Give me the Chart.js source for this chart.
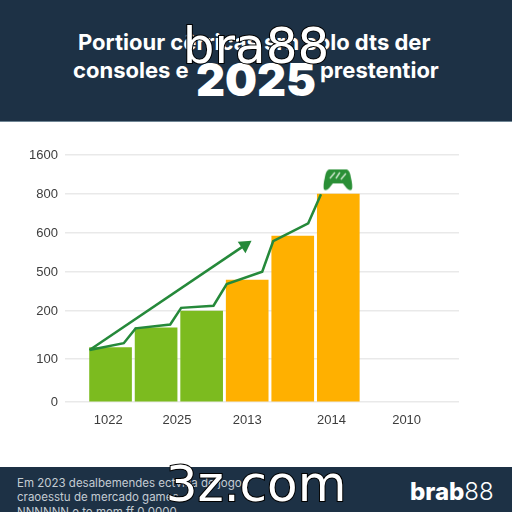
<!DOCTYPE html>
<html lang="pt">
<head>
<meta charset="utf-8">
<title>Consoles 2025</title>
<script src="https://cdn.jsdelivr.net/npm/chart.js@4/dist/chart.umd.js"></script>
<style>
  html, body { margin: 0; padding: 0; background: #fff; }
  #page { position: relative; width: 512px; height: 512px; overflow: hidden; font-family: Inter, "Open Sans", sans-serif; }
  #header { position: absolute; left: 0; top: 0; width: 512px; height: 122px; background: #1d3145; border-bottom: 1px solid #6f8594; box-sizing: border-box; }
  #footer { position: absolute; left: 0; top: 467px; width: 512px; height: 45px; background: #1d3145; overflow: hidden; }
  #chartWrap { position: absolute; left: 0; top: 123px; width: 512px; height: 344px; }
  .title { position: absolute; color: #fff; font-weight: 700; font-size: 22px; white-space: nowrap; line-height: 24px; }
  #year { position: absolute; left: 0; width: 512px; top: 55px; text-align: center; color: #fff; font-weight: 900; font-size: 45px; line-height: 50px; }
  .note { position: absolute; left: 17px; color: #c4ccd3; font-size: 11.5px; line-height: 14px; white-space: nowrap; }
  #brand { position: absolute; left: 410px; top: 10px; color: #fff; font-size: 24px; line-height: 30px; font-weight: 800; }
  #brand span { font-weight: 300; }
  .mark { position: absolute; left: 0; width: 512px; text-align: center; color: #fff; font-family: "DejaVu Sans", sans-serif; font-size: 50px; line-height: 60px; -webkit-text-stroke: 2px #000; paint-order: stroke fill; }
</style>
</head>
<body>
<div id="page">
  <div id="header">
    <div class="title" style="left:78px;top:30px">Portiour cêrricas srn solo dts der</div>
    <div class="title" style="left:73px;top:58px">consoles e</div>
    <div class="title" style="left:320px;top:58px">prestentior</div>
    <div id="year">2025</div>
  </div>
  <div id="chartWrap"><canvas id="chartConsoles" width="512" height="344"></canvas></div>
  <div id="footer">
    <div class="note" style="top:9px">Em 2023 desalbemendes ectvitia de jogos</div>
    <div class="note" style="top:23px">craoesstu de mercado games</div>
    <div class="note" style="top:38px">NNNNNN e to mem ff 0 0000</div>
    <div id="brand">brab<span>88</span></div>
  </div>
  <div class="mark" style="top:16px">bra88</div>
  <div class="mark" style="top:454px">3z.com</div>
</div>
<script>
// Data
const barX = [1, 2, 3, 4, 5, 6];
const barValues = [124, 165, 200, 438, 592, 800];
const barColors = ["#7cbb1f", "#7cbb1f", "#7cbb1f", "#ffb000", "#ffb000", "#ffb000"];

const trendX = [0.54, 1.29, 1.55, 2.31, 2.55, 3.26, 3.55, 4.33, 4.57, 5.34, 5.62];
const trendValues = [119, 133, 164, 172, 225, 241, 408, 501, 579, 650, 799];

const arrowX = [0.54, 3.95];
const arrowValues = [119, 569];

const iconX = [5.99];
const iconValues = [1090];

const yTicks = [0, 100, 200, 500, 600, 800, 1600];
const xTickLabels = ["1022", "2025", "2013", "2014", "2010"];
const xTickSpots = [0.95, 2.46, 4, 5.85, 7.5];

// The y axis of the picture is uneven, so each tick gets its own share of the height
const yStops = [0, 0.174, 0.368, 0.526, 0.684, 0.842, 1];

class StepScale extends Chart.LinearScale {
  getPixelForValue(value) {
    if (value === null || value === undefined) return NaN;
    let i = 0;
    while (i < yTicks.length - 2 && value > yTicks[i + 1]) i++;
    const t = (value - yTicks[i]) / (yTicks[i + 1] - yTicks[i]);
    return this.getPixelForDecimal(yStops[i] + t * (yStops[i + 1] - yStops[i]));
  }
}
StepScale.id = "stepScale";
StepScale.defaults = Chart.LinearScale.defaults;
Chart.register(StepScale);

// Small gamepad icon used as a point style
function makePad() {
  const c = document.createElement("canvas");
  c.width = 30;
  c.height = 23;
  const g = c.getContext("2d");
  g.fillStyle = "#2a8f36";
  g.beginPath();
  g.moveTo(6, 1);
  g.lineTo(24, 1);
  g.quadraticCurveTo(27, 2, 28, 9);
  g.quadraticCurveTo(30, 17, 29, 21);
  g.quadraticCurveTo(27, 23, 24, 20);
  g.lineTo(20, 15);
  g.lineTo(10, 15);
  g.lineTo(6, 20);
  g.quadraticCurveTo(3, 23, 1, 21);
  g.quadraticCurveTo(0, 17, 2, 9);
  g.quadraticCurveTo(3, 2, 6, 1);
  g.fill();
  g.strokeStyle = "#cfe8cf";
  g.lineWidth = 1.4;
  g.beginPath();
  g.moveTo(7, 10); g.lineTo(12, 4);
  g.moveTo(13, 10); g.lineTo(17, 4);
  g.moveTo(18, 11); g.lineTo(23, 5);
  g.stroke();
  return c;
}

const toPoints = (xs, ys) => xs.map((x, i) => ({ x, y: ys[i] }));

new Chart(document.getElementById("chartConsoles"), {
  type: "bar",
  data: {
    datasets: [
      {
        type: "line",
        data: toPoints(iconX, iconValues),
        showLine: false,
        pointStyle: makePad(),
        order: 0
      },
      {
        type: "line",
        data: toPoints(arrowX, arrowValues),
        borderColor: "#25893a",
        backgroundColor: "#25893a",
        borderWidth: 2.5,
        tension: 0,
        pointRadius: [0, 8],
        pointStyle: "triangle",
        pointRotation: 56,
        pointBackgroundColor: "#25893a",
        pointBorderWidth: 0,
        order: 1
      },
      {
        type: "line",
        data: toPoints(trendX, trendValues),
        borderColor: "#25893a",
        borderWidth: 2.5,
        tension: 0,
        pointRadius: 0,
        order: 2
      },
      {
        type: "bar",
        data: toPoints(barX, barValues),
        backgroundColor: barColors,
        barThickness: 42,
        order: 3
      }
    ]
  },
  options: {
    responsive: false,
    animation: false,
    layout: { padding: { left: 0, right: 53, top: 32, bottom: 0 } },
    plugins: { legend: { display: false }, tooltip: { enabled: false } },
    scales: {
      x: {
        type: "linear",
        offset: false,
        min: 0,
        max: 8.65,
        grid: { display: false, offset: false },
        border: { display: false },
        afterBuildTicks: axis => { axis.ticks = xTickSpots.map(value => ({ value })); },
        afterFit: axis => { axis.height = 65; },
        ticks: {
          autoSkip: false,
          maxRotation: 0,
          padding: 3,
          color: "#3d3d3d",
          font: { family: "Liberation Sans", size: 13 },
          callback: (v, i) => xTickLabels[i]
        }
      },
      y: {
        type: "stepScale",
        min: 0,
        max: 1600,
        border: { display: false },
        grid: { color: "#e9e9e9", lineWidth: 1.5, drawTicks: false },
        afterBuildTicks: axis => { axis.ticks = yTicks.map(value => ({ value })); },
        afterFit: axis => { axis.width = 65; },
        ticks: {
          autoSkip: false,
          padding: 7,
          color: "#3d3d3d",
          font: { family: "Liberation Sans", size: 13 },
          callback: v => String(v)
        }
      }
    }
  }
});
</script>
</body>
</html>
